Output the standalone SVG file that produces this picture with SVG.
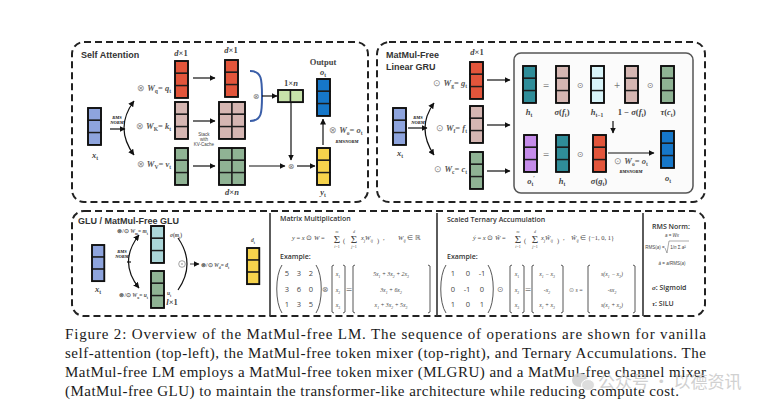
<svg xmlns="http://www.w3.org/2000/svg" xmlns:xlink="http://www.w3.org/1999/xlink" width="768" height="415" viewBox="0 0 768 415">
<style>
.bg{fill:#ffffff}
.dash{fill:none;stroke:#222;stroke-width:2;stroke-dasharray:7 4}
.div{stroke:#333;stroke-width:1.6}
.cell{stroke:#1d1d1d;stroke-width:1.4}
.red{fill:#e2553b}.pink{fill:#d5b6b2}.green{fill:#8fb394}.blue{fill:#8ea4dd}.obl{fill:#1677c9}
.yel{fill:#f6d34c}.lg{fill:#c7e2aa}.teal{fill:#2f8d99}.cyan{fill:#d8f4f9}.purp{fill:#c58cea}.mt{fill:#abd6d8}
.ttl{font-family:"Liberation Sans",Arial,sans-serif;font-weight:bold;font-size:9px;fill:#333}
.ttl2{font-family:"Open Sans","Liberation Sans",sans-serif;font-weight:600;font-size:7px;fill:#333}
.fm{font-family:"Liberation Serif",serif;font-size:8.5px;fill:#555;font-weight:bold}
.fs{font-family:"Liberation Serif",serif;font-size:5.5px;fill:#555;font-weight:bold}
.lb{font-family:"Liberation Serif",serif;font-size:8.5px;fill:#444;font-weight:bold;text-anchor:middle}
.v{font-style:italic}
.sb{font-size:65%}
.op{font-family:"DejaVu Sans",sans-serif;font-size:8px;fill:#777;text-anchor:middle}
.rms{font-family:"Liberation Serif",serif;font-size:4.5px;font-style:italic;font-weight:bold;fill:#111;text-anchor:middle}
.tiny{font-family:"Liberation Sans",sans-serif;font-size:4.5px;fill:#444;text-anchor:middle}
.mx{font-family:"Liberation Serif",serif;font-size:6.5px;fill:#444}
.sig{font-family:"Liberation Serif",serif;font-size:11px;fill:#444;text-anchor:middle}
.lim{font-family:"Liberation Serif",serif;font-size:4px;fill:#444;text-anchor:middle}
.num{font-family:"Open Sans","Liberation Sans",sans-serif;font-size:7.5px;fill:#444;text-anchor:middle}
.ent{font-family:"Liberation Serif",serif;font-size:5.8px;fill:#444;text-anchor:middle;font-style:italic}
.par{fill:none;stroke:#444;stroke-width:0.9}
.ln{fill:none;stroke:#111;stroke-width:1.2}
.cap{font-family:"Liberation Serif","Times New Roman",serif;font-size:15px;fill:#1a1a1a}
.wm{font-family:"Noto Sans CJK SC","Noto Sans",sans-serif;font-size:17px;fill:#c9c9c9}
</style>
<defs>
<marker id="ah" viewBox="0 0 6 6" refX="5.5" refY="3" markerWidth="6" markerHeight="6" markerUnits="userSpaceOnUse" orient="auto-start-reverse"><path d="M0,0 L6,3 L0,6 z" fill="#111"/></marker>
<g id="col"><rect class="cell" x="0" y="0" width="13" height="12.3"/><rect class="cell" x="0" y="12.3" width="13" height="12.3"/><rect class="cell" x="0" y="24.6" width="13" height="12.3"/><rect x="0" y="0" width="13" height="36.9" fill="none" stroke="#111" stroke-width="1.8"/></g>
<g id="mat"><rect class="cell" x="0" y="0" width="13" height="12.3"/><rect class="cell" x="13" y="0" width="13" height="12.3"/><rect class="cell" x="0" y="12.3" width="13" height="12.3"/><rect class="cell" x="13" y="12.3" width="13" height="12.3"/><rect class="cell" x="0" y="24.6" width="13" height="12.3"/><rect class="cell" x="13" y="24.6" width="13" height="12.3"/><rect x="0" y="0" width="26" height="36.9" fill="none" stroke="#111" stroke-width="1.8"/></g>
</defs>
<rect class="bg" x="0" y="0" width="768" height="415"/>

<!-- ================= Self Attention ================= -->
<g id="self-attention">
<rect class="dash" x="72" y="42" width="296" height="160" rx="12"/>
<text class="ttl" x="81" y="58">Self Attention</text>
</g>
<g id="sa-xt"><use href="#col" x="88" y="108" class="blue"/><text class="lb" x="95" y="158"><tspan class="v">x</tspan><tspan class="sb" dy="2">t</tspan></text></g>
<g id="sa-rms"><text class="rms" x="117" y="119">RMS</text><text class="rms" x="117" y="124">NORM</text></g>
<g id="sa-q"><use href="#col" x="175" y="61" class="red"/><text class="lb" x="181" y="56"><tspan class="v">d</tspan>×1</text>
<text class="fm" x="171" y="91" text-anchor="end"><tspan fill="#888" font-weight="normal">⊗ </tspan><tspan class="v">W</tspan><tspan class="sb" dy="2">q</tspan><tspan dy="-2">= </tspan><tspan class="v">q</tspan><tspan class="sb" dy="2">t</tspan></text></g>
<g id="sa-k"><use href="#col" x="175" y="102" class="pink"/>
<text class="fm" x="171" y="129" text-anchor="end"><tspan fill="#888" font-weight="normal">⊗ </tspan><tspan class="v">W</tspan><tspan class="sb" dy="2">K</tspan><tspan dy="-2">= </tspan><tspan class="v">k</tspan><tspan class="sb" dy="2">t</tspan></text></g>
<g id="sa-v"><use href="#col" x="175" y="148" class="green"/>
<text class="fm" x="171" y="167" text-anchor="end"><tspan fill="#888" font-weight="normal">⊗ </tspan><tspan class="v">W</tspan><tspan class="sb" dy="2">V</tspan><tspan dy="-2">= </tspan><tspan class="v">v</tspan><tspan class="sb" dy="2">t</tspan></text></g>
<g id="sa-q2"><use href="#col" x="225" y="60" class="red"/><text class="lb" x="231" y="53"><tspan class="v">d</tspan>×1</text></g>
<g id="sa-kc"><use href="#mat" x="219" y="102" class="pink"/></g>
<g id="sa-vc"><use href="#mat" x="219" y="148" class="green"/><text class="lb" x="232" y="195"><tspan class="v">d</tspan>×<tspan class="v">n</tspan></text></g>
<g id="sa-stack"><text class="tiny" x="204" y="136">Stack</text><text class="tiny" x="204" y="141">with</text><text class="tiny" x="204" y="146">KV-Cache</text></g>
<g id="sa-qk"><path d="M250,71 C262,71 262,80 262,96 C262,112 262,121 250,121" fill="none" stroke="#3a5ea8" stroke-width="2"/><text class="op" x="256" y="99">⊗</text></g>
<g id="sa-score"><rect class="cell lg" x="278" y="90" width="12.5" height="12.2"/><rect class="cell lg" x="290.5" y="90" width="12.5" height="12.2"/><rect x="278" y="90" width="25" height="12.2" fill="none" stroke="#111" stroke-width="1.7"/><text class="lb" x="291" y="86">1×<tspan class="v">n</tspan></text></g>
<g id="sa-mul"><text class="op" x="291" y="169" font-size="10">⊗</text></g>
<g id="sa-yt"><use href="#col" x="317" y="148" class="yel"/><text class="lb" x="323" y="195" font-size="10"><tspan class="v">y</tspan><tspan class="sb" dy="2">t</tspan></text></g>
<g id="sa-ot"><use href="#col" x="317" y="79" class="obl"/><text class="lb" x="323" y="65" font-size="6.5">Output</text><text class="lb" x="323" y="75"><tspan class="v">o</tspan><tspan class="sb" dy="2">t</tspan></text></g>
<g id="sa-wo"><text class="fm" x="329" y="133" font-size="8"><tspan fill="#888" font-weight="normal">⊗ </tspan><tspan class="v">W</tspan><tspan class="sb" dy="2">o</tspan><tspan dy="-2">= </tspan><tspan class="v">o</tspan><tspan class="sb" dy="2">t</tspan></text><text class="rms" x="347" y="143" font-size="5.5" fill="#555">RMSNORM</text></g>

<!-- ================= MatMul-Free Linear GRU ================= -->
<g id="mlgru">
<rect class="dash" x="377" y="42" width="328" height="160" rx="12"/>
<text class="ttl" x="386" y="58">MatMul-Free</text><text class="ttl" x="386" y="70">Linear GRU</text>
<rect x="514" y="53" width="179" height="140" rx="7" fill="#fbfbfb" stroke="#555" stroke-width="1.5"/>
</g>
<g id="g-xt"><use href="#col" x="393" y="108" class="blue"/><text class="lb" x="400" y="156"><tspan class="v">x</tspan><tspan class="sb" dy="2">t</tspan></text></g>
<g id="g-rms"><text class="rms" x="418" y="119">RMS</text><text class="rms" x="418" y="124">NORM</text></g>
<g id="g-g"><use href="#col" x="470" y="62" class="red"/><text class="lb" x="477" y="55" font-weight="normal"><tspan class="v">d</tspan>×1</text>
<text class="fm" x="467" y="86" text-anchor="end"><tspan fill="#888" font-weight="normal">⊙ </tspan><tspan class="v">W</tspan><tspan class="sb" dy="2">g</tspan><tspan dy="-2">= </tspan><tspan class="v">g</tspan><tspan class="sb" dy="2">t</tspan></text></g>
<g id="g-f"><use href="#col" x="470" y="106" class="pink"/>
<text class="fm" x="467" y="131" text-anchor="end"><tspan fill="#888" font-weight="normal">⊙ </tspan><tspan class="v">W</tspan><tspan class="sb" dy="2">f</tspan><tspan dy="-2">= </tspan><tspan class="v">f</tspan><tspan class="sb" dy="2">t</tspan></text></g>
<g id="g-c"><use href="#col" x="470" y="152" class="green"/>
<text class="fm" x="467" y="172" text-anchor="end"><tspan fill="#888" font-weight="normal">⊙ </tspan><tspan class="v">W</tspan><tspan class="sb" dy="2">c</tspan><tspan dy="-2">= </tspan><tspan class="v">c</tspan><tspan class="sb" dy="2">t</tspan></text></g>
<g id="g-ht"><use href="#col" x="523" y="66" class="teal"/><text class="lb" x="529" y="115"><tspan class="v">h</tspan><tspan class="sb" dy="2">t</tspan></text></g>
<g id="g-sf"><use href="#col" x="556" y="66" class="pink"/><text class="lb" x="562" y="115"><tspan class="v">σ</tspan>(<tspan class="v">f</tspan><tspan class="sb" dy="2">t</tspan><tspan dy="-2">)</tspan></text></g>
<g id="g-hprev"><use href="#col" x="591" y="66" class="cyan"/><text class="lb" x="597" y="115"><tspan class="v">h</tspan><tspan class="sb" dy="2">t−1</tspan></text></g>
<g id="g-1sf"><use href="#col" x="625" y="66" class="pink"/><text class="lb" x="632" y="115">1 − <tspan class="v">σ</tspan>(<tspan class="v">f</tspan><tspan class="sb" dy="2">t</tspan><tspan dy="-2">)</tspan></text></g>
<g id="g-tc"><use href="#col" x="661" y="66" class="green"/><text class="lb" x="668" y="115"><tspan class="v">τ</tspan>(<tspan class="v">c</tspan><tspan class="sb" dy="2">t</tspan><tspan dy="-2">)</tspan></text></g>
<g id="g-ops1"><text class="op" x="546" y="88">=</text><text class="op" x="580" y="88">⊙</text><text class="op" x="617" y="88">+</text><text class="op" x="650" y="88">⊙</text></g>
<g id="g-opt"><use href="#col" x="524" y="135" class="purp"/><text class="lb" x="531" y="184"><tspan class="v">o</tspan><tspan class="sb" dy="2">t</tspan><tspan class="sb" dy="-6">′</tspan></text></g>
<g id="g-ht2"><use href="#col" x="556" y="135" class="teal"/><text class="lb" x="562" y="184"><tspan class="v">h</tspan><tspan class="sb" dy="2">t</tspan></text></g>
<g id="g-sg"><use href="#col" x="593" y="135" class="red"/><text class="lb" x="599" y="184"><tspan class="v">σ</tspan>(<tspan class="v">g</tspan><tspan class="sb" dy="2">t</tspan><tspan dy="-2">)</tspan></text></g>
<g id="g-ops2"><text class="op" x="546" y="157">=</text><text class="op" x="580" y="157">⊙</text></g>
<g id="g-wo"><text class="fm" x="631" y="164" font-size="7.5" text-anchor="middle"><tspan fill="#888" font-weight="normal">⊙ </tspan><tspan class="v">W</tspan><tspan class="sb" dy="2">o</tspan><tspan dy="-2">= </tspan><tspan class="v">o</tspan><tspan class="sb" dy="2">t</tspan></text><text class="rms" x="631" y="173" font-size="5" fill="#555">RMSNORM</text></g>
<g id="g-ot"><use href="#col" x="661" y="131" class="obl"/><text class="lb" x="668" y="181"><tspan class="v">o</tspan><tspan class="sb" dy="2">t</tspan></text></g>

<!-- ================= Bottom panels ================= -->
<g id="bottom">
<rect class="dash" x="72" y="211" width="633" height="105" rx="12"/>
<line class="div" x1="270" y1="213" x2="270" y2="316"/>
<line class="div" x1="437" y1="213" x2="437" y2="316"/>
<line class="div" x1="643" y1="213" x2="643" y2="316"/>
</g>
<g id="glu">
<text class="ttl" x="78" y="224" font-size="8">GLU / MatMul-Free GLU</text>
</g>
<g id="glu-xt"><use href="#col" x="92" y="245" class="blue" transform="translate(92 245) scale(0.95 0.98) translate(-92 -245)"/><text class="lb" x="98" y="292"><tspan class="v">x</tspan><tspan class="sb" dy="2">t</tspan></text></g>
<g id="glu-rms"><text class="rms" x="122" y="253">RMS</text><text class="rms" x="122" y="258" font-weight="normal">NORM</text></g>
<g id="glu-m"><use href="#col" x="151" y="226" class="mt"/><text class="fs" x="148" y="233" text-anchor="end" font-weight="normal" fill="#666">⊗/⊙ <tspan class="v">W</tspan><tspan class="sb" dy="1.5">m</tspan><tspan dy="-1.5">= </tspan><tspan class="v">m</tspan><tspan class="sb" dy="1.5">t</tspan></text>
<text class="fs" x="176" y="237" text-anchor="middle"><tspan class="v">σ</tspan>(<tspan class="v">m</tspan><tspan class="sb" dy="1.5">t</tspan><tspan dy="-1.5">)</tspan></text></g>
<g id="glu-u"><use href="#col" x="151" y="271" class="green"/><text class="fs" x="148" y="297" text-anchor="end" font-weight="normal" fill="#666">⊗/⊙ <tspan class="v">W</tspan><tspan class="sb" dy="1.5">u</tspan><tspan dy="-1.5">= </tspan><tspan class="v">u</tspan><tspan class="sb" dy="1.5">t</tspan></text>
<text class="fs" x="167" y="295"><tspan class="v">u</tspan><tspan class="sb" dy="1.5">t</tspan></text><text class="lb" x="172" y="305" font-size="7"><tspan class="v">l</tspan>×1</text></g>
<g id="glu-dot"><path d="M178,238 Q196,264 178,290" class="ln"/><circle cx="182" cy="264" r="3.3" fill="#fff" stroke="#666" stroke-width="0.6"/><circle cx="182" cy="264" r="0.7" fill="#666"/></g>
<g id="glu-d"><use href="#col" x="247" y="248" class="yel" transform="translate(247 248) scale(0.95 0.98) translate(-247 -248)"/><text class="fs" x="253" y="242" text-anchor="middle" font-size="6"><tspan class="v">d</tspan><tspan class="sb" dy="1.5">t</tspan></text>
<text class="fs" x="201" y="267" font-weight="normal" fill="#666">⊗/⊙ <tspan class="v">W</tspan><tspan class="sb" dy="1.5">d</tspan><tspan dy="-1.5">= </tspan><tspan class="v">d</tspan><tspan class="sb" dy="1.5">t</tspan></text></g>

<g id="matmul">
<text class="ttl2" x="280" y="221">Matrix Multiplication</text>
<text class="mx" x="292" y="240"><tspan class="v">y</tspan> = <tspan class="v">x</tspan> ⊙ <tspan class="v">W</tspan> = </text>
<text class="sig" x="337" y="243">Σ</text><text class="lim" x="337" y="233"><tspan class="v">m</tspan></text><text class="lim" x="337" y="248"><tspan class="v">i</tspan>=1</text>
<text class="mx" x="343" y="243" font-size="14">(</text>
<text class="sig" x="354" y="243">Σ</text><text class="lim" x="354" y="233"><tspan class="v">d</tspan></text><text class="lim" x="354" y="248"><tspan class="v">j</tspan>=1</text>
<text class="mx" x="361" y="240"><tspan class="v">x</tspan><tspan class="sb v" dy="1.5">j</tspan><tspan class="v" dy="-1.5">W</tspan><tspan class="sb v" dy="1.5">ij</tspan></text>
<text class="mx" x="377" y="243" font-size="14">)</text><text class="mx" x="383" y="240">,</text>
<text class="mx" x="398" y="240"><tspan class="v">W</tspan><tspan class="sb v" dy="1.5">ij</tspan><tspan dy="-1.5"> ∈ ℝ</tspan></text>
<text class="ttl2" x="280" y="259">Example:</text>
<path class="par" d="M282,265 C275,275 275,303 282,313"/><path class="par" d="M316,265 C323,275 323,303 316,313"/>
<text class="num" x="287" y="276">5</text><text class="num" x="299" y="276">3</text><text class="num" x="311" y="276">2</text>
<text class="num" x="287" y="292">3</text><text class="num" x="299" y="292">6</text><text class="num" x="311" y="292">0</text>
<text class="num" x="287" y="307">1</text><text class="num" x="299" y="307">3</text><text class="num" x="311" y="307">5</text>
<text class="op" x="325" y="292" font-size="7">⊗</text>
<path class="par" d="M334,265 L332,266 L332,312 L334,313"/><path class="par" d="M343,265 L345,266 L345,312 L343,313"/>
<text class="ent" x="338" y="276">x<tspan class="sb" dy="1.5" font-style="normal">1</tspan></text><text class="ent" x="338" y="292">x<tspan class="sb" dy="1.5" font-style="normal">2</tspan></text><text class="ent" x="338" y="307">x<tspan class="sb" dy="1.5" font-style="normal">3</tspan></text>
<text class="op" x="349" y="292" font-size="7">=</text>
<path class="par" d="M355,265 L353,266 L353,312 L355,313"/><path class="par" d="M428,265 L430,266 L430,312 L428,313"/>
<text class="ent" x="391" y="276">5x<tspan class="sb" dy="1.5">1</tspan><tspan dy="-1.5"> + 3x</tspan><tspan class="sb" dy="1.5">2</tspan><tspan dy="-1.5"> + 2x</tspan><tspan class="sb" dy="1.5">3</tspan></text>
<text class="ent" x="391" y="292">3x<tspan class="sb" dy="1.5">1</tspan><tspan dy="-1.5"> + 6x</tspan><tspan class="sb" dy="1.5">2</tspan></text>
<text class="ent" x="391" y="307">x<tspan class="sb" dy="1.5">1</tspan><tspan dy="-1.5"> + 3x</tspan><tspan class="sb" dy="1.5">2</tspan><tspan dy="-1.5"> + 5x</tspan><tspan class="sb" dy="1.5">3</tspan></text>
</g>

<g id="ternary">
<text class="ttl2" x="447" y="222">Scaled Ternary Accumulation</text>
<text class="mx" x="473" y="240"><tspan class="v">ỹ</tspan> = <tspan class="v">x</tspan> ⊙ <tspan class="v">W̃</tspan> = </text>
<text class="sig" x="518" y="243">Σ</text><text class="lim" x="518" y="233"><tspan class="v">m</tspan></text><text class="lim" x="518" y="248"><tspan class="v">i</tspan>=1</text>
<text class="mx" x="524" y="243" font-size="14">(</text>
<text class="sig" x="535" y="243">Σ</text><text class="lim" x="535" y="233"><tspan class="v">d</tspan></text><text class="lim" x="535" y="248"><tspan class="v">j</tspan>=1</text>
<text class="mx" x="541" y="240"><tspan class="v">x</tspan><tspan class="sb v" dy="1.5">j</tspan><tspan class="v" dy="-1.5">W̃</tspan><tspan class="sb v" dy="1.5">ij</tspan></text>
<text class="mx" x="557" y="243" font-size="14">)</text><text class="mx" x="563" y="240">,</text>
<text class="mx" x="571" y="240"><tspan class="v">W̃</tspan><tspan class="sb v" dy="1.5">ij</tspan><tspan dy="-1.5"> ∈ {−1, 0, 1}</tspan></text>
<text class="ttl2" x="447" y="259">Example:</text>
<path class="par" d="M446,265 C439,275 439,303 446,313"/><path class="par" d="M488,265 C495,275 495,303 488,313"/>
<text class="num" x="453" y="276">1</text><text class="num" x="468" y="276">0</text><text class="num" x="482" y="276">-1</text>
<text class="num" x="453" y="292">0</text><text class="num" x="467" y="292">-1</text><text class="num" x="482" y="292">0</text>
<text class="num" x="453" y="307">1</text><text class="num" x="468" y="307">0</text><text class="num" x="482" y="307">1</text>
<text class="op" x="500" y="292" font-size="7">⊙</text>
<path class="par" d="M512,265 L510,266 L510,312 L512,313"/><path class="par" d="M522,265 L524,266 L524,312 L522,313"/>
<text class="ent" x="517" y="276">x<tspan class="sb" dy="1.5" font-style="normal">1</tspan></text><text class="ent" x="517" y="292">x<tspan class="sb" dy="1.5" font-style="normal">2</tspan></text><text class="ent" x="517" y="307">x<tspan class="sb" dy="1.5" font-style="normal">3</tspan></text>
<text class="op" x="528" y="292" font-size="7">=</text>
<path class="par" d="M534,265 L532,266 L532,312 L534,313"/><path class="par" d="M561,265 L563,266 L563,312 L561,313"/>
<text class="ent" x="547" y="276">x<tspan class="sb" dy="1.5">1</tspan><tspan dy="-1.5"> − x</tspan><tspan class="sb" dy="1.5">3</tspan></text>
<text class="ent" x="547" y="292">-x<tspan class="sb" dy="1.5">2</tspan></text>
<text class="ent" x="547" y="307">x<tspan class="sb" dy="1.5">1</tspan><tspan dy="-1.5"> + x</tspan><tspan class="sb" dy="1.5">3</tspan></text>
<text class="ent" x="576" y="292" font-size="6.5"><tspan font-style="normal" fill="#777">⊙</tspan> s =</text>
<path class="par" d="M590,265 L588,266 L588,312 L590,313"/><path class="par" d="M633,265 L635,266 L635,312 L633,313"/>
<text class="ent" x="612" y="276">s(x<tspan class="sb" dy="1.5">1</tspan><tspan dy="-1.5"> − x</tspan><tspan class="sb" dy="1.5">3</tspan><tspan dy="-1.5">)</tspan></text>
<text class="ent" x="612" y="292">-sx<tspan class="sb" dy="1.5">2</tspan></text>
<text class="ent" x="612" y="307">s(x<tspan class="sb" dy="1.5">1</tspan><tspan dy="-1.5"> + x</tspan><tspan class="sb" dy="1.5">3</tspan><tspan dy="-1.5">)</tspan></text>
</g>

<g id="rmsnorm">
<text class="ttl2" x="652" y="229" font-size="6.5">RMS Norm:</text>
<text class="tiny" x="672" y="237" font-family="Liberation Serif"><tspan class="v">a</tspan> = <tspan class="v">Wx</tspan></text>
<text class="tiny" x="655" y="249" font-family="Liberation Serif">RMS(<tspan class="v">a</tspan>) =</text>
<path d="M665,248 L667,253 L669,241 L689,241" fill="none" stroke="#555" stroke-width="0.5"/>
<text class="tiny" x="678" y="249" font-family="Liberation Serif" font-size="4">1/<tspan class="v">n</tspan> Σ <tspan class="v">a</tspan>²</text>
<text class="tiny" x="672" y="265" font-family="Liberation Serif"><tspan class="v">ā</tspan> = <tspan class="v">a</tspan>/RMS(<tspan class="v">a</tspan>)</text>
<text class="ttl2" x="652" y="290" font-weight="normal"><tspan class="v" font-family="Liberation Serif">σ</tspan>: Sigmoid</text>
<text class="ttl2" x="652" y="306" font-weight="normal"><tspan class="v" font-family="Liberation Serif">τ</tspan>: SiLU</text>
</g>

<!-- ================= Connectors ================= -->
<g id="connectors" fill="none" stroke="#111" stroke-width="1.2">
<line x1="110" y1="129" x2="125" y2="129" marker-end="url(#ah)"/>
<path d="M134,101 Q114,128 134,155" marker-start="url(#ah)" marker-end="url(#ah)"/>
<line x1="193" y1="78" x2="215" y2="78" marker-end="url(#ah)"/>
<line x1="193" y1="121" x2="215" y2="121" marker-end="url(#ah)"/>
<line x1="193" y1="166" x2="215" y2="166" marker-end="url(#ah)"/>
<line x1="262" y1="96" x2="277" y2="96" marker-end="url(#ah)"/>
<line x1="291" y1="102" x2="291" y2="160" marker-end="url(#ah)"/>
<line x1="249" y1="166" x2="285" y2="166" marker-end="url(#ah)"/>
<line x1="297" y1="166" x2="315" y2="166" marker-end="url(#ah)"/>
<line x1="323" y1="145" x2="323" y2="119" marker-end="url(#ah)"/>
<line x1="408" y1="128" x2="427" y2="128" marker-end="url(#ah)"/>
<path d="M434,103 Q416,128 434,155" marker-start="url(#ah)" marker-end="url(#ah)"/>
<line x1="487" y1="80" x2="510" y2="80" marker-end="url(#ah)"/>
<line x1="487" y1="125" x2="510" y2="125" marker-end="url(#ah)"/>
<line x1="487" y1="171" x2="510" y2="171" marker-end="url(#ah)"/>
<line x1="613" y1="121" x2="613" y2="133" marker-end="url(#ah)"/>
<line x1="608" y1="153" x2="654" y2="153" marker-end="url(#ah)"/>
<line x1="127" y1="262" x2="131" y2="262"/>
<path d="M139,235 Q118,262 139,288" marker-start="url(#ah)" marker-end="url(#ah)"/>
<line x1="190" y1="264" x2="199" y2="264" marker-end="url(#ah)" stroke-width="0.8"/>
</g>

<!-- ================= Caption ================= -->
<g id="caption">
<text class="cap" x="65" y="339" textLength="641" lengthAdjust="spacing">Figure 2: Overview of the MatMul-free LM.  The sequence of operations are shown for vanilla</text>
<text class="cap" x="65" y="358" textLength="641" lengthAdjust="spacing">self-attention (top-left), the MatMul-free token mixer (top-right), and Ternary Accumulations. The</text>
<text class="cap" x="65" y="377" textLength="641" lengthAdjust="spacing">MatMul-free LM employs a MatMul-free token mixer (MLGRU) and a MatMul-free channel mixer</text>
<text class="cap" x="65" y="396" textLength="614" lengthAdjust="spacing">(MatMul-free GLU) to maintain the transformer-like architecture while reducing compute cost.</text>
</g>
<g id="watermark" opacity="0.85">
<ellipse cx="580" cy="380" rx="8" ry="7" fill="#d0d0d0"/>
<ellipse cx="588" cy="385" rx="6.5" ry="5.5" fill="#d8d8d8" stroke="#fff" stroke-width="1"/>
<text class="wm" x="598" y="388">公众号 · 以德资讯</text>
</g>
</svg>
